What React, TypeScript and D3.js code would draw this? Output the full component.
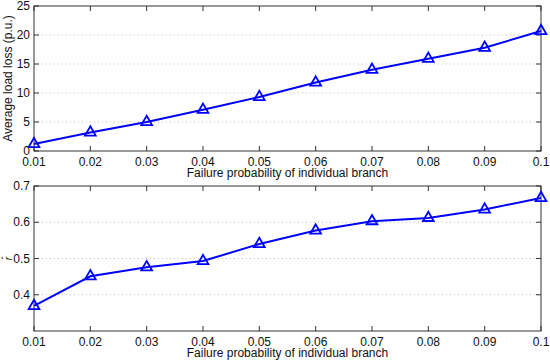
import React, { useEffect, useRef } from 'react';
import * as d3 from 'd3';

const failureProb = [0.01, 0.02, 0.03, 0.04, 0.05, 0.06, 0.07, 0.08, 0.09, 0.1];
const avgLoadLoss = [1.2, 3.2, 5.0, 7.1, 9.3, 11.8, 14.0, 15.9, 17.8, 20.7];
const rHat = [0.369, 0.451, 0.476, 0.493, 0.54, 0.577, 0.603, 0.612, 0.635, 0.667];
const topYTicks = [0, 5, 10, 15, 20, 25];
const bottomYTicks = [0.4, 0.5, 0.6, 0.7];

const W = 550, H = 360;
const FONT = '"Liberation Sans", Arial, sans-serif';

export default function App() {
    const ref = useRef<SVGSVGElement>(null);

    useEffect(() => {
        const svg = d3.select(ref.current);
        svg.selectAll('*').remove();

        const x = d3.scaleLinear().domain([0.01, 0.1]).range([34, 541]);

        // draws one MATLAB-style panel
        function panel(top: number, bottom: number, yDomain: number[], yTicks: number[], values: number[], yLabel: string, italic: boolean) {
            const y = d3.scaleLinear().domain(yDomain).range([bottom, top]);
            const g = svg.append('g');

            g.append('rect')
                .attr('x', x.range()[0]).attr('y', top)
                .attr('width', x.range()[1] - x.range()[0]).attr('height', bottom - top)
                .attr('fill', '#fff');

            // horizontal dotted grid
            g.selectAll('.grid').data(yTicks.filter(t => y(t) > top + 1 && y(t) < bottom - 1)).enter()
                .append('line')
                .attr('x1', x.range()[0]).attr('x2', x.range()[1])
                .attr('y1', d => y(d)).attr('y2', d => y(d))
                .attr('stroke', '#b0b0b0').attr('stroke-width', 0.8)
                .attr('stroke-dasharray', '1,3');

            // inward ticks on all sides
            const tl = 5;
            failureProb.forEach(v => {
                g.append('line').attr('x1', x(v)).attr('x2', x(v)).attr('y1', bottom).attr('y2', bottom - tl).attr('stroke', '#333');
                g.append('line').attr('x1', x(v)).attr('x2', x(v)).attr('y1', top).attr('y2', top + tl).attr('stroke', '#333');
            });
            yTicks.forEach(v => {
                g.append('line').attr('x1', x.range()[0]).attr('x2', x.range()[0] + tl).attr('y1', y(v)).attr('y2', y(v)).attr('stroke', '#333');
                g.append('line').attr('x1', x.range()[1]).attr('x2', x.range()[1] - tl).attr('y1', y(v)).attr('y2', y(v)).attr('stroke', '#333');
            });

            g.append('rect')
                .attr('x', x.range()[0]).attr('y', top)
                .attr('width', x.range()[1] - x.range()[0]).attr('height', bottom - top)
                .attr('fill', 'none').attr('stroke', '#333').attr('stroke-width', 1);

            // tick labels
            g.selectAll('.xl').data(failureProb).enter().append('text')
                .attr('x', d => x(d)).attr('y', bottom + 15)
                .attr('text-anchor', 'middle')
                .attr('font-family', FONT).attr('font-size', 12).attr('fill', '#111')
                .text(d => String(d));
            g.selectAll('.yl').data(yTicks).enter().append('text')
                .attr('x', x.range()[0] - 4).attr('y', d => y(d) + 4)
                .attr('text-anchor', 'end')
                .attr('font-family', FONT).attr('font-size', 12).attr('fill', '#111')
                .text(d => String(d));

            g.append('text')
                .attr('x', (x.range()[0] + x.range()[1]) / 2).attr('y', bottom + 26)
                .attr('text-anchor', 'middle')
                .attr('font-family', FONT).attr('font-size', 12).attr('fill', '#111')
                .text('Failure probability of individual branch');

            g.append('text')
                .attr('transform', `translate(${italic ? 12 : 12},${(top + bottom) / 2}) rotate(-90)`)
                .attr('text-anchor', 'middle')
                .attr('font-family', FONT).attr('font-size', italic ? 10 : 12)
                .attr('font-style', italic ? 'italic' : 'normal').attr('fill', '#111')
                .text(yLabel);

            const pts = failureProb.map((v, i) => [x(v), y(values[i])] as [number, number]);
            g.append('path')
                .attr('d', d3.line()(pts))
                .attr('fill', 'none').attr('stroke', '#0000ff').attr('stroke-width', 2);

            const tri = d3.symbol().type(d3.symbolTriangle).size(50);
            g.selectAll('.m').data(pts).enter().append('path')
                .attr('d', tri())
                .attr('transform', d => `translate(${d[0]},${d[1]})`)
                .attr('fill', 'none').attr('stroke', '#0000ff').attr('stroke-width', 1.8);
        }

        panel(6, 151, [0, 25], topYTicks, avgLoadLoss, 'Average load loss (p.u.)', false);
        panel(186, 331, [0.3, 0.7], bottomYTicks, rHat, 'r\u0302', true);
    }, []);

    return (
        <svg ref={ref} width={W} height={H}
            style={{ position: 'absolute', left: 0, top: 0, background: '#fff' }} />
    );
}
